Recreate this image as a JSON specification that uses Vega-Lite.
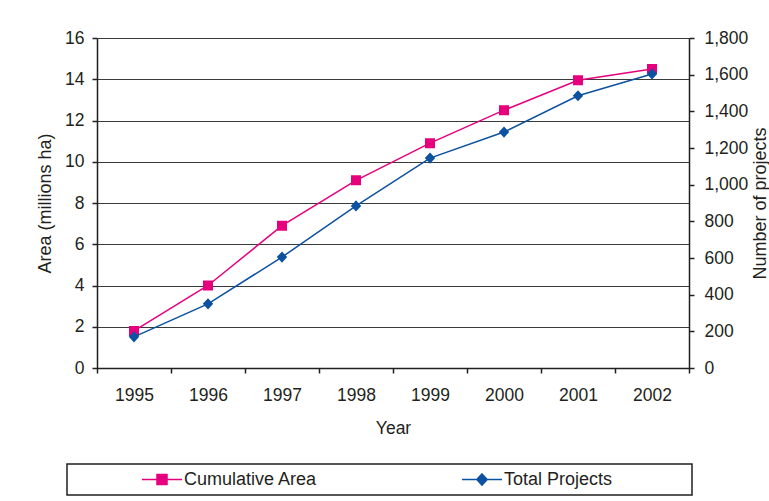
{
  "$schema": "https://vega.github.io/schema/vega-lite/v6.json",
  "width": 592,
  "height": 330,
  "autosize": {"type": "none"},
  "padding": {"left": 97, "top": 38, "right": 80, "bottom": 133},
  "background": "white",
  "data": {"values": [
    {"year": "1995", "area": 1.8, "projects": 170},
    {"year": "1996", "area": 4.0, "projects": 350},
    {"year": "1997", "area": 6.9, "projects": 605},
    {"year": "1998", "area": 9.1, "projects": 884},
    {"year": "1999", "area": 10.9, "projects": 1145},
    {"year": "2000", "area": 12.5, "projects": 1287},
    {"year": "2001", "area": 13.95, "projects": 1485},
    {"year": "2002", "area": 14.5, "projects": 1604}
  ]},
  "encoding": {
    "x": {
      "field": "year", "type": "ordinal", "bandPosition": 0.5,
      "scale": {"type": "band", "paddingInner": 0, "paddingOuter": 0},
      "axis": {
        "title": "Year", "labelAngle": 0, "tickBand": "extent",
        "tickSize": 5, "labelPadding": 27, "labelBaseline": "alphabetic",
        "titleY": 65, "titleBaseline": "alphabetic", "titleFontSize": 17.5
      }
    }
  },
  "layer": [
    {
      "encoding": {
        "y": {
          "field": "area", "type": "quantitative",
          "scale": {"domain": [0, 16], "nice": false},
          "axis": {
            "title": "Area (millions ha)", "orient": "left",
            "values": [0, 2, 4, 6, 8, 10, 12, 14, 16],
            "grid": true, "tickSize": 5, "labelPadding": 8,
            "titleAngle": -90, "titleX": -47, "titleY": 165,
            "titleAlign": "center", "titleBaseline": "alphabetic", "titleFontSize": 18
          }
        }
      },
      "layer": [
        {"mark": {"type": "line", "color": "#E6007E", "strokeWidth": 1.5}},
        {
          "mark": {"type": "point", "filled": true, "opacity": 1, "size": 1600, "strokeWidth": 0},
          "encoding": {
            "color": {
              "datum": "Cumulative Area", "type": "nominal",
              "scale": {"domain": ["Cumulative Area", "Total Projects"], "range": ["#E6007E", "#0D52A0"]},
              "legend": {"title": "\u00a0", "titleOrient": "right", "titlePadding": 74}
            },
            "stroke": {
              "datum": "Cumulative Area", "type": "nominal",
              "scale": {"domain": ["Cumulative Area", "Total Projects"], "range": ["#E6007E", "#0D52A0"]},
              "legend": {"title": "\u00a0", "titleOrient": "right", "titlePadding": 74}
            },
            "shape": {
              "datum": "Cumulative Area", "type": "nominal",
              "scale": {"domain": ["Cumulative Area", "Total Projects"], "range": ["M-1,0H1M-0.25,-0.25H0.25V0.25H-0.25Z", "M-1,0H1M0,-0.28L0.26,0L0,0.28L-0.26,0Z"]},
              "legend": {"title": "\u00a0", "titleOrient": "right", "titlePadding": 74}
            }
          }
        }
      ]
    },
    {
      "encoding": {
        "y": {
          "field": "projects", "type": "quantitative",
          "scale": {"domain": [0, 1800], "nice": false},
          "axis": {
            "title": "Number of projects", "orient": "right",
            "values": [0, 200, 400, 600, 800, 1000, 1200, 1400, 1600, 1800],
            "format": ",.0f", "grid": false, "tickSize": 5, "labelPadding": 10,
            "titleAngle": -90, "titleX": 76, "titleY": 165,
            "titleAlign": "center", "titleBaseline": "alphabetic", "titleFontSize": 18
          }
        }
      },
      "layer": [
        {"mark": {"type": "line", "color": "#0D52A0", "strokeWidth": 1.5}},
        {
          "mark": {"type": "point", "filled": true, "opacity": 1, "size": 1600, "strokeWidth": 0},
          "encoding": {
            "color": {"datum": "Total Projects", "type": "nominal"},
            "stroke": {"datum": "Total Projects", "type": "nominal"},
            "shape": {"datum": "Total Projects", "type": "nominal"}
          }
        }
      ]
    }
  ],
  "resolve": {"scale": {"y": "independent"}},
  "config": {
    "font": "Liberation Sans",
    "view": {"stroke": null},
    "axis": {
      "labelFont": "Liberation Sans", "titleFont": "Liberation Sans",
      "labelFontSize": 17.5, "labelColor": "#231F20", "titleColor": "#231F20",
      "titleFontWeight": "normal",
      "domainColor": "#231F20", "domainWidth": 1.5,
      "tickColor": "#231F20", "tickWidth": 1.5,
      "gridColor": "#3A3A3A", "gridWidth": 1, "gridOpacity": 1
    },
    "legend": {
      "orient": "none", "legendX": -30, "legendY": 426,
      "direction": "horizontal",
      "strokeColor": "#231F20", "strokeWidth": 1.5, "padding": 6,
      "labelFont": "Liberation Sans", "labelFontSize": 18, "labelColor": "#231F20",
      "symbolOffset": 68, "labelOffset": 1, "columnPadding": 75, "clipHeight": 19,
      "symbolSize": 1600, "symbolStrokeWidth": 1.5
    }
  }
}
